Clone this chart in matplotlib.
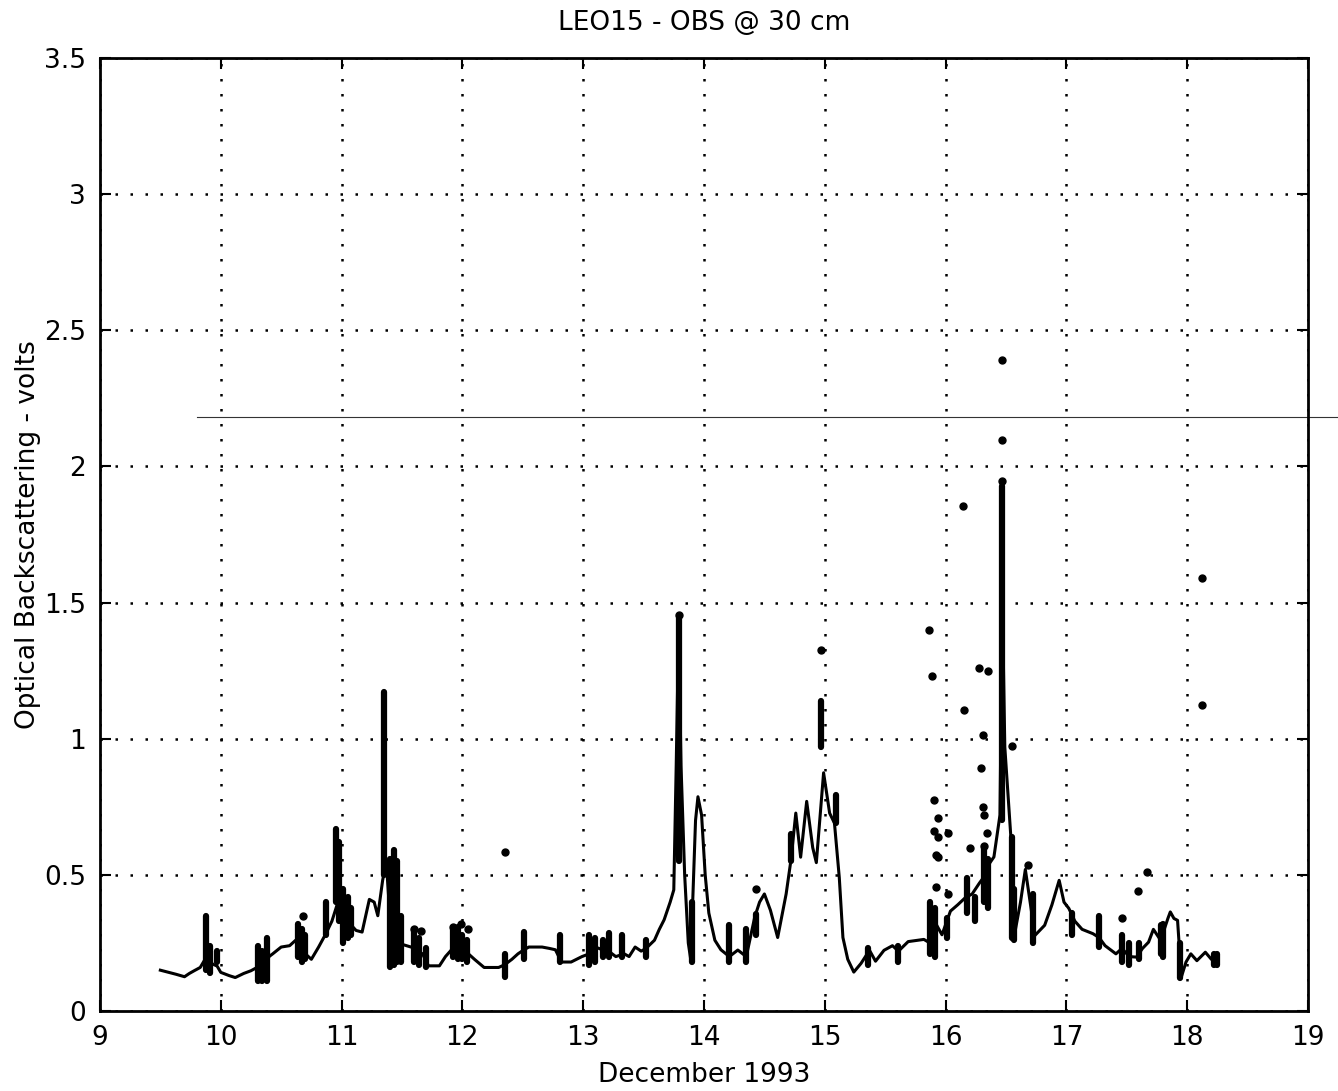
import numpy as np
import matplotlib
matplotlib.use("Agg")
import matplotlib.pyplot as plt

# smoothed OBS record (day of December 1993, volts)
line_x = [9.50, 9.57, 9.63, 9.70, 9.74, 9.78, 9.83, 9.87, 9.90, 9.93, 9.97, 10.00, 10.07, 10.12,
          10.19, 10.25, 10.30, 10.35, 10.40, 10.43, 10.50, 10.57, 10.62, 10.66, 10.70, 10.75, 10.81,
          10.87, 10.92, 10.97, 11.02, 11.07, 11.12, 11.17, 11.23, 11.27, 11.30, 11.34, 11.37, 11.40,
          11.45, 11.50, 11.59, 11.67, 11.72, 11.81, 11.86, 11.92, 12.00, 12.05, 12.10, 12.18, 12.30,
          12.35, 12.41, 12.46, 12.51, 12.55, 12.66, 12.72, 12.77, 12.82, 12.90, 12.99, 13.05, 13.10,
          13.16, 13.21, 13.27, 13.34, 13.38, 13.43, 13.48, 13.52, 13.59, 13.63, 13.67, 13.72, 13.75,
          13.77, 13.79, 13.81, 13.84, 13.87, 13.89, 13.91, 13.93, 13.95, 13.98, 14.01, 14.04, 14.09,
          14.14, 14.21, 14.28, 14.35, 14.42, 14.46, 14.50, 14.55, 14.61, 14.68, 14.72, 14.76, 14.80,
          14.85, 14.90, 14.93, 14.99, 15.04, 15.08, 15.12, 15.15, 15.19, 15.24, 15.30, 15.37, 15.42,
          15.49, 15.56, 15.61, 15.69, 15.82, 15.87, 15.92, 15.97, 16.04, 16.10, 16.16, 16.22, 16.28,
          16.33, 16.36, 16.40, 16.45, 16.47, 16.49, 16.54, 16.57, 16.62, 16.66, 16.70, 16.74, 16.82,
          16.88, 16.94, 16.98, 17.02, 17.07, 17.13, 17.22, 17.27, 17.32, 17.41, 17.46, 17.52, 17.58,
          17.63, 17.68, 17.72, 17.78, 17.84, 17.86, 17.89, 17.92, 17.94, 17.95, 17.99, 18.03, 18.08,
          18.15, 18.20, 18.25]
line_y = [0.150, 0.142, 0.135, 0.126, 0.138, 0.148, 0.160, 0.190, 0.200, 0.173, 0.165, 0.142, 0.130, 0.123,
          0.138, 0.148, 0.160, 0.150, 0.200, 0.210, 0.235, 0.240, 0.260, 0.250, 0.210, 0.190, 0.235,
          0.284, 0.330, 0.400, 0.360, 0.320, 0.296, 0.290, 0.410, 0.400, 0.350, 0.480, 0.550, 0.350,
          0.280, 0.245, 0.233, 0.210, 0.166, 0.166, 0.200, 0.230, 0.230, 0.210, 0.190, 0.160, 0.160,
          0.170, 0.190, 0.210, 0.225, 0.235, 0.235, 0.230, 0.225, 0.180, 0.180, 0.200, 0.210, 0.235,
          0.225, 0.220, 0.200, 0.210, 0.200, 0.235, 0.220, 0.230, 0.260, 0.300, 0.335, 0.400, 0.445,
          0.900, 1.400, 0.900, 0.500, 0.250, 0.190, 0.450, 0.700, 0.787, 0.720, 0.500, 0.360, 0.260,
          0.225, 0.200, 0.224, 0.200, 0.345, 0.400, 0.430, 0.370, 0.270, 0.430, 0.555, 0.727, 0.565,
          0.770, 0.600, 0.545, 0.875, 0.727, 0.690, 0.490, 0.270, 0.190, 0.143, 0.175, 0.223, 0.183,
          0.223, 0.240, 0.220, 0.255, 0.263, 0.250, 0.320, 0.280, 0.367, 0.390, 0.415, 0.430, 0.470,
          0.500, 0.540, 0.566, 0.720, 1.500, 0.970, 0.640, 0.280, 0.400, 0.520, 0.400, 0.278, 0.315,
          0.390, 0.480, 0.400, 0.377, 0.330, 0.300, 0.284, 0.270, 0.240, 0.210, 0.230, 0.200, 0.198,
          0.230, 0.253, 0.300, 0.260, 0.340, 0.364, 0.340, 0.333, 0.200, 0.123, 0.180, 0.210, 0.185,
          0.216, 0.190, 0.180]

# dense columns of raw samples (x, lowest, highest)
burst_x = [9.88, 9.91, 9.97, 10.31, 10.34, 10.38, 10.64, 10.67, 10.70, 10.87, 10.95, 10.98, 11.01,
           11.05, 11.08, 11.35, 11.40, 11.43, 11.46, 11.49, 11.60, 11.64, 11.70, 11.92, 11.96, 12.00,
           12.04, 12.35, 12.51, 12.81, 13.05, 13.10, 13.16, 13.21, 13.32, 13.52, 13.79, 13.90, 14.21,
           14.35, 14.43, 14.72, 14.97, 15.09, 15.36, 15.61, 15.87, 15.91, 16.01, 16.18, 16.24, 16.32,
           16.35, 16.47, 16.55, 16.57, 16.72, 17.05, 17.27, 17.46, 17.52, 17.60, 17.78, 17.80, 17.94,
           18.22, 18.25]
burst_lo = [0.15, 0.14, 0.18, 0.11, 0.11, 0.11, 0.20, 0.18, 0.19, 0.28, 0.40, 0.33, 0.25,
            0.27, 0.28, 0.50, 0.16, 0.17, 0.18, 0.18, 0.18, 0.17, 0.16, 0.20, 0.19, 0.19,
            0.18, 0.125, 0.19, 0.18, 0.17, 0.18, 0.20, 0.20, 0.20, 0.20, 0.55, 0.18, 0.18,
            0.18, 0.28, 0.55, 0.97, 0.69, 0.17, 0.18, 0.21, 0.20, 0.27, 0.36, 0.33, 0.40,
            0.38, 0.70, 0.27, 0.26, 0.25, 0.28, 0.235, 0.18, 0.17, 0.19, 0.21, 0.20, 0.12,
            0.17, 0.17]
burst_hi = [0.35, 0.24, 0.22, 0.24, 0.22, 0.27, 0.32, 0.30, 0.28, 0.40, 0.67, 0.62, 0.45,
            0.42, 0.38, 1.17, 0.56, 0.59, 0.55, 0.35, 0.30, 0.27, 0.23, 0.30, 0.31, 0.28,
            0.26, 0.21, 0.29, 0.28, 0.28, 0.27, 0.26, 0.285, 0.28, 0.26, 1.45, 0.40, 0.316,
            0.30, 0.355, 0.65, 1.14, 0.795, 0.23, 0.24, 0.40, 0.38, 0.34, 0.49, 0.42, 0.60,
            0.56, 1.93, 0.64, 0.45, 0.43, 0.36, 0.35, 0.28, 0.25, 0.25, 0.315, 0.32, 0.25,
            0.21, 0.21]

# isolated raw samples
dot_x = [10.68, 11.60, 11.66, 11.92, 11.99, 12.05, 12.35, 13.79, 14.43, 14.97,
         15.86, 15.89, 15.90, 15.94, 15.90, 15.94, 15.92, 15.94, 16.02, 15.92, 16.02,
         16.14, 16.15, 16.20, 16.28, 16.35, 16.31, 16.29, 16.31, 16.32, 16.34, 16.32,
         16.47, 16.47, 16.47, 16.55, 16.68, 17.46, 17.59, 17.67, 18.12, 18.12]
dot_y = [0.35, 0.30, 0.294, 0.307, 0.32, 0.30, 0.585, 1.456, 0.45, 1.327,
         1.40, 1.23, 0.774, 0.71, 0.66, 0.64, 0.574, 0.566, 0.654, 0.454, 0.43,
         1.853, 1.104, 0.60, 1.26, 1.247, 1.013, 0.893, 0.75, 0.72, 0.654, 0.606,
         2.39, 2.097, 1.946, 0.973, 0.535, 0.34, 0.44, 0.51, 1.59, 1.123]

xticks = list(range(9, 20))
yticks = [0, 0.5, 1, 1.5, 2, 2.5, 3, 3.5]
ytick_labels = ['0', '0.5', '1', '1.5', '2', '2.5', '3', '3.5']

fig = plt.figure(figsize=(13.38, 10.91), dpi=100)
ax = fig.add_axes([0.0747, 0.0733, 0.9029, 0.8735])

ax.vlines(burst_x, burst_lo, burst_hi, colors='black', linewidth=4.5, capstyle='round')
ax.plot(dot_x, dot_y, 'o', color='black', markersize=5)
ax.plot(line_x, line_y, '-', color='black', linewidth=2.2)

# scan artefact: stray horizontal line across the page
ax.plot([9.8, 19.3], [2.18, 2.18], '-', color='#333333', linewidth=0.8, clip_on=False)

ax.set_xlim(9, 19)
ax.set_ylim(0, 3.5)
ax.set_xticks(xticks)
ax.set_yticks(yticks)
ax.set_yticklabels(ytick_labels)
ax.grid(True, color='black', linestyle=(0, (1, 5)), linewidth=1.8)
ax.tick_params(direction='in', length=8, width=1.5, labelsize=19, top=True, right=True, pad=10)
for s in ax.spines.values():
    s.set_linewidth(2)

ax.set_title('LEO15 - OBS @ 30 cm', fontsize=19, pad=20)
ax.set_xlabel('December 1993', fontsize=19, labelpad=8)
ax.set_ylabel('Optical Backscattering - volts', fontsize=19, labelpad=2)

fig.savefig('out.png', dpi=100)
